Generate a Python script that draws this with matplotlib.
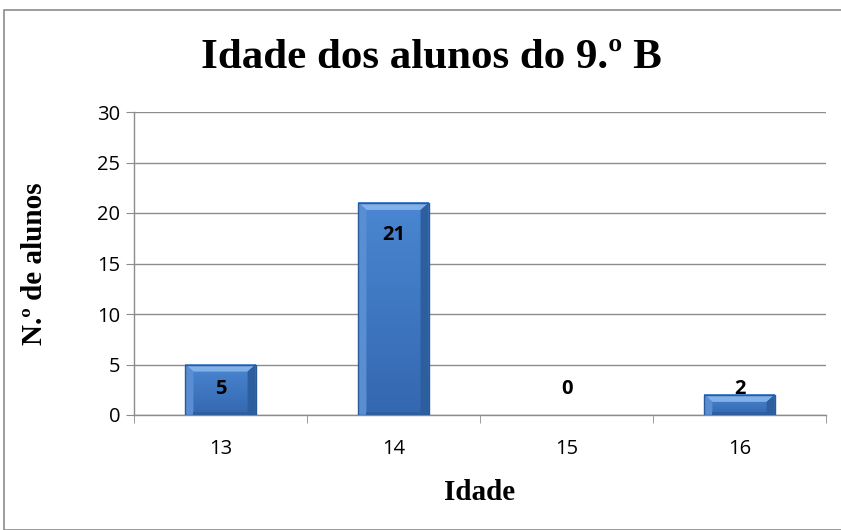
import matplotlib.pyplot as plt
import numpy as np
from matplotlib.colors import LinearSegmentedColormap
from matplotlib.patches import Polygon, Rectangle

ages = ["13", "14", "15", "16"]
counts = [5, 21, 0, 2]
y_ticks = [0, 5, 10, 15, 20, 25, 30]

BAR_EDGE = "#2A5A99"
GRID = "#8C8C8C"
SERIF = "Liberation Serif"
SANS = "Open Sans"

bar_cmap = LinearSegmentedColormap.from_list("bar", ["#3468B0", "#4A86D2"])

fig = plt.figure(figsize=(8.41, 5.30), dpi=100)
ax = fig.add_axes([134 / 841, 115 / 530, 692 / 841, 303 / 530])

x = np.arange(len(ages))
width = 0.405
bars = ax.bar(x, counts, width=width, color="#4079C0", linewidth=0, zorder=3)

# gradient fill plus bevel strips on each bar
bx = 0.046
by = 0.7
grad = np.linspace(0, 1, 64).reshape(-1, 1)
for xi, v in zip(x, counts):
    if v <= 0:
        continue
    l, r = xi - width / 2, xi + width / 2
    ax.imshow(grad, extent=(l, r, 0, v), origin="lower", cmap=bar_cmap,
              aspect="auto", zorder=3.5)
    d = min(by, v / 2)
    ax.add_patch(Polygon([(l, v), (r, v), (r - bx, v - d), (l + bx, v - d)],
                         closed=True, facecolor="#82B0E8", edgecolor="none", zorder=4))
    ax.add_patch(Polygon([(l, 0), (l, v), (l + bx, v - d), (l + bx, 0)],
                         closed=True, facecolor="#5A8ED3", edgecolor="none", zorder=4))
    ax.add_patch(Polygon([(r, 0), (r, v), (r - bx, v - d), (r - bx, 0)],
                         closed=True, facecolor="#2D5E9E", edgecolor="none", zorder=4))
    ax.add_patch(Polygon([(l + bx, 0), (r - bx, 0), (r - bx, min(0.25, v / 4)),
                          (l + bx, min(0.25, v / 4))],
                         closed=True, facecolor="#2F5F9F", edgecolor="none", zorder=4))
    ax.add_patch(Rectangle((l, 0), width, v, facecolor="none", edgecolor=BAR_EDGE,
                           linewidth=1.0, zorder=5))

for xi, v in zip(x, counts):
    ax.text(xi, max(v - 3.2, 2.6), str(v), ha="center", va="center",
            fontsize=14.5, fontweight="bold", family=SANS, zorder=6)

ax.set_xlim(-0.5, len(ages) - 0.5)
ax.set_ylim(0, 30)
ax.set_yticks(y_ticks)
ax.set_xticks(x)
ax.set_xticklabels(ages)
ax.set_xticks(np.arange(len(ages) + 1) - 0.5, minor=True)
ax.tick_params(axis="x", which="major", length=0, pad=17, labelsize=14.5)
ax.tick_params(axis="x", which="minor", length=6, color=GRID, direction="out")
ax.tick_params(axis="y", length=6, color=GRID, direction="out", labelsize=14.5, pad=4)
for lab in ax.get_xticklabels() + ax.get_yticklabels():
    lab.set_family(SANS)

ax.yaxis.grid(True, color=GRID, linewidth=1.0, zorder=0)
ax.set_axisbelow(True)
for side in ["top", "right"]:
    ax.spines[side].set_visible(False)
for side in ["left", "bottom"]:
    ax.spines[side].set_color(GRID)
    ax.spines[side].set_linewidth(1.0)

fig.text(431 / 841, 1 - 58 / 530, "Idade dos alunos do 9.º B", ha="center", va="center",
         fontsize=31, fontweight="bold", family=SERIF)
fig.text(35 / 841, 1 - 264 / 530, "N.º de alunos", ha="center", va="center",
         rotation=90, fontsize=21, fontweight="bold", family=SERIF)
fig.text(480 / 841, 1 - 493 / 530, "Idade", ha="center", va="center",
         fontsize=21, fontweight="bold", family=SERIF)

fig.add_artist(Rectangle((4 / 841, 0), 1.0, 1 - 10 / 530, transform=fig.transFigure,
                         facecolor="none", edgecolor="#8C8C8C", linewidth=1.2))

fig.savefig("out.png", dpi=100)
